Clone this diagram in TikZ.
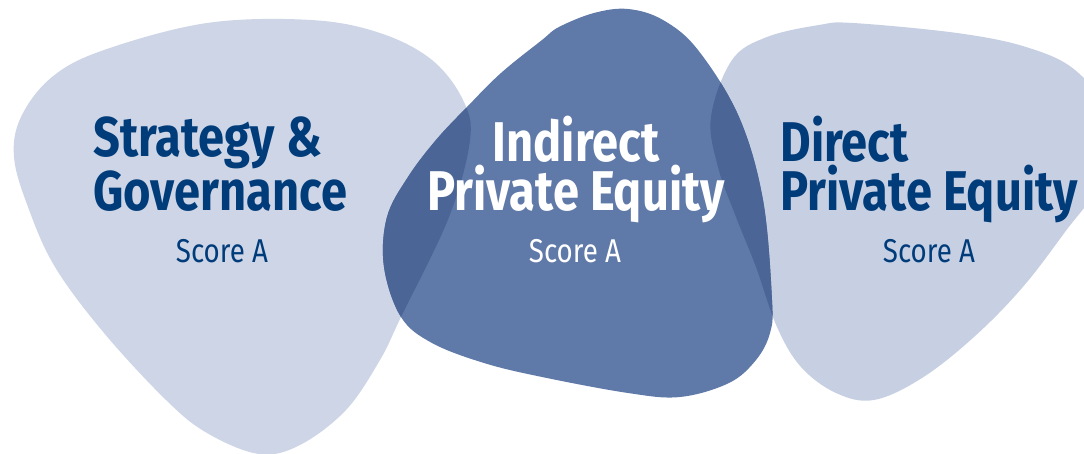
\documentclass[tikz,border=0pt]{standalone}
\usepackage{fontspec}
\setmainfont{Fira Sans}
\newfontfamily\headfont{Fira Sans}[FakeStretch=0.84]
\usepackage{tikz}

\definecolor{paleblue}{HTML}{CDD5E6}
\definecolor{paleblueb}{HTML}{C7D0E3}
\definecolor{midblue}{HTML}{5F79A8}
\definecolor{overlapblue}{HTML}{4B6596}
\definecolor{navy}{HTML}{003B7A}

\tikzset{
  blobS/.style={insert path={plot[smooth cycle, tension=0.6] coordinates {(14,157) (21,117) (52,77) (104,50) (207,23) (311,20) (380,33) (432,60) (463,100) (470,140) (449,217) (401,317) (380,360) (346,410) (300,445) (259,454) (207,433) (166,400) (104,333) (55,267) (28,207)}}},
  blobI/.style={insert path={plot[smooth cycle, tension=0.6] coordinates {(542,40) (501,73) (467,107) (436,140) (408,177) (387,217) (384,267) (401,317) (432,343) (484,363) (542,377) (628,393) (680,397) (729,383) (756,360) (770,333) (772,300) (763,200) (739,117) (698,50) (663,20) (628,9) (594,13) (559,27)}}},
  blobD/.style={insert path={plot[smooth cycle, tension=0.6] coordinates {(711,117) (732,60) (767,37) (819,25) (853,23) (957,33) (1026,47) (1075,70) (1108,115) (1105,175) (1065,232) (1022,288) (974,337) (922,378) (874,400) (836,393) (801,367) (777,327) (756,267) (736,217) (718,167)}}},
  head/.style={inner sep=0pt, font=\headfont\bfseries\fontsize{28}{24.5}\selectfont},
  score/.style={inner sep=0pt, font=\headfont\fontsize{16.5}{18}\selectfont}
}

\begin{document}
\begin{tikzpicture}[x=0.5pt, y=-0.5pt]
\useasboundingbox (0,0) rectangle (1084,454);
\clip (0,0) rectangle (1084,454);

% the three blobs, the middle one laid over the others
\fill[paleblue, blobS];
\fill[paleblueb, blobD];
\fill[midblue, blobI];
\begin{scope}
\clip[blobI];
\fill[overlapblue, blobS];
\fill[overlapblue, blobD];
\end{scope}

\node[head, anchor=north west, align=left, text=navy] (sg) at (93,116) {Strategy \&\\Governance};
\node[score, anchor=base, text=navy] (sgscore) at (222,263) {Score A};

\node[head, anchor=north, align=center, text=white] (ipe) at (576,116) {Indirect\\Private Equity};
\node[score, anchor=base, text=white] (ipescore) at (575,263) {Score A};

\node[head, anchor=north west, align=left, text=navy] (dpe) at (780,116) {Direct\\Private Equity};
\node[score, anchor=base, text=navy] (dpescore) at (929,263) {Score A};
\end{tikzpicture}
\end{document}
